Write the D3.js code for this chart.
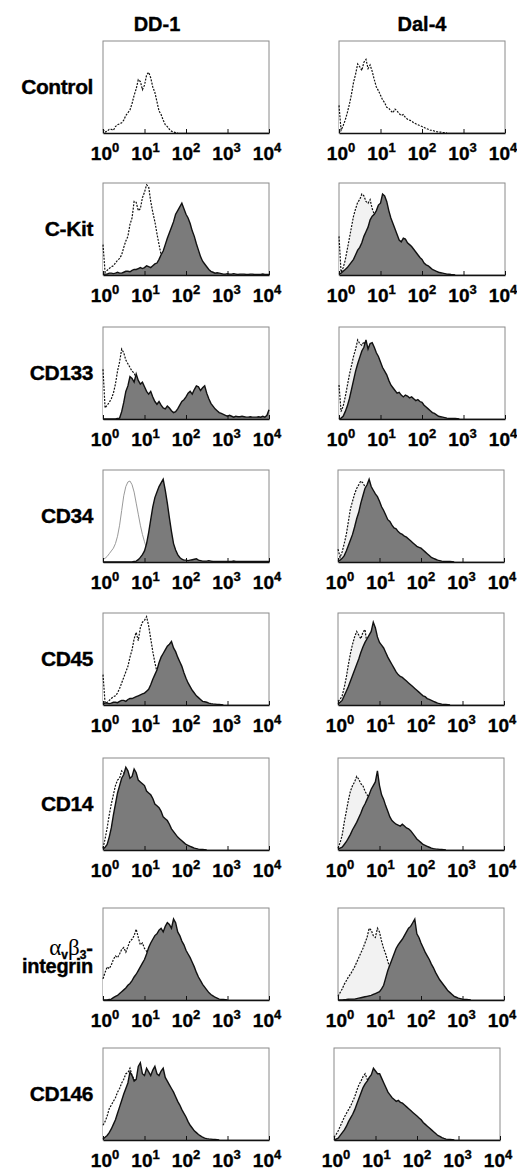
<!DOCTYPE html>
<html>
<head>
<meta charset="utf-8">
<script src="https://cdn.jsdelivr.net/npm/d3@7"></script>
<style>
  body { margin: 0; background: #fff; }
  svg { display: block; font-family: "Liberation Sans", Arial, Helvetica, sans-serif; }
</style>
</head>
<body>
<svg id="chart" width="517" height="1171"></svg>
<script>
// fluorescence channels, log10 units (10^0 .. 10^4)
const decades = [0, 0.05, 0.1, 0.15, 0.2, 0.25, 0.3, 0.35, 0.4, 0.45, 0.5, 0.55, 0.6, 0.65, 0.7, 0.75, 0.8, 0.85, 0.9, 0.95,
  1, 1.05, 1.1, 1.15, 1.2, 1.25, 1.3, 1.35, 1.4, 1.45, 1.5, 1.55, 1.6, 1.65, 1.7, 1.75, 1.8, 1.85, 1.9, 1.95,
  2, 2.05, 2.1, 2.15, 2.2, 2.25, 2.3, 2.35, 2.4, 2.45, 2.5, 2.55, 2.6, 2.65, 2.7, 2.75, 2.8, 2.85, 2.9, 2.95,
  3, 3.05, 3.1, 3.15, 3.2, 3.25, 3.3, 3.35, 3.4, 3.45, 3.5, 3.55, 3.6, 3.65, 3.7, 3.75, 3.8, 3.85, 3.9, 3.95, 4]
const tickExponents = [0, 1, 2, 3, 4]
const cellLines = ['DD-1', 'Dal-4']
const markers = ['Control', 'C-Kit', 'CD133', 'CD34', 'CD45', 'CD14', 'αvβ3-integrin', 'CD146']

// counts in % of panel height, one per channel from 10^0 upward (channels past the end are empty)
// *_iso = isotype control (dotted outline), others = stained (filled)
const dd1_control = [4, 1, 2, 4, 4, 3, 7, 9, 10, 11, 14, 19, 22, 25, 32, 41, 48, 58, 56, 47, 52, 63, 66, 60, 50, 44, 34, 24, 20, 14, 9, 7, 4, 2, 1, 0.5, 0]
const dal4_control = [30, 3, 8, 14, 22, 31, 42, 55, 64, 75, 72, 68, 77, 80, 70, 74, 67, 58, 50, 46, 41, 36, 33, 28, 27, 24, 22, 26, 24, 21, 19, 20, 17, 15, 14, 13, 11, 10, 9, 8, 7, 6, 5, 4, 3, 3, 2, 1.5, 1, 1, 0.5, 0.5, 0]

const dd1_ckit_iso = [33, 3, 5, 7, 9, 10, 13, 16, 18, 22, 30, 37, 42, 55, 62, 80, 79, 70, 72, 84, 90, 98, 96, 80, 68, 58, 45, 33, 22, 15, 9, 5, 3, 2, 1, 0.5, 0]
const dd1_ckit = [1, 1, 1, 2, 2, 1.5, 2, 3, 2, 2, 3, 4, 4, 3.5, 5, 6, 6, 7, 8, 7, 8, 10, 9, 8, 10, 12, 13, 17, 22, 26, 33, 40, 46, 52, 58, 66, 70, 74, 78, 72,
  66, 62, 56, 48, 42, 34, 27, 20, 15, 12, 9, 6, 4, 3, 2, 2.5, 2, 1.5, 1, 1, 1.5, 1, 1, 1.5, 1, 0.5, 1, 1, 1, 0.5, 0.5, 1, 1, 0.5, 0.5, 0.5, 0.5, 1, 0.5, 0.5, 0.5]
const dal4_ckit_iso = [42, 3, 8, 16, 28, 40, 52, 64, 72, 79, 82, 88, 86, 80, 78, 82, 72, 66, 62, 60, 56, 52, 50, 47, 44, 41, 38, 36, 34, 32, 30, 29, 28, 26, 24, 21, 18, 15, 13, 11, 9, 7, 6, 5, 4, 3, 2, 1.5, 1, 0.8, 0.5, 0.3, 0]
const dal4_ckit = [1, 2, 4, 6, 8, 11, 14, 17, 22, 27, 30, 35, 42, 47, 52, 60, 64, 66, 70, 76, 78, 88, 86, 80, 70, 62, 56, 50, 44, 38, 36, 40, 39, 35, 33, 31, 28, 25, 22, 19, 17, 13, 11, 10, 8, 6, 5, 4, 3, 2.5, 2, 1.5, 1, 0.8, 0.5, 0.3, 0]

const dd1_cd133_iso = [54, 12, 15, 18, 22, 28, 38, 52, 62, 76, 72, 64, 60, 56, 52, 50, 44, 40, 36, 32, 28, 24, 20, 17, 15, 12, 10, 8, 7, 6, 5, 4, 3, 2.5, 2, 1.5, 1, 1, 1, 0.7, 0.5, 0.3, 0]
const dd1_cd133 = [0, 0, 0, 0, 0, 0, 0, 0.5, 1, 8, 18, 30, 36, 46, 44, 40, 49, 42, 38, 40, 35, 30, 27, 30, 24, 19, 16, 19, 15, 12, 11, 14, 12, 9, 7, 8, 11, 15, 19, 21,
  24, 28, 30, 27, 32, 36, 35, 31, 34, 36, 28, 22, 17, 14, 11, 9, 7, 6, 5, 4, 3, 4, 3, 2, 3, 2.5, 2.5, 3, 2.5, 2, 2, 2.5, 2, 2, 2, 2.5, 2, 3, 2, 4, 10]
const dal4_cd133_iso = [37, 8, 14, 24, 36, 48, 58, 68, 76, 86, 82, 80, 84, 78, 74, 72, 70, 64, 60, 55, 50, 46, 42, 38, 34, 30, 26, 24, 22, 21, 20, 19, 18, 17, 16, 15, 15, 14, 14, 12, 11, 9, 8, 6, 5, 4, 3, 2, 1, 0.7, 0.5, 0.3, 0]
const dal4_cd133 = [0, 1, 3, 8, 14, 22, 32, 42, 52, 60, 67, 74, 78, 86, 76, 82, 83, 78, 72, 68, 62, 56, 52, 48, 42, 37, 34, 31, 28, 29, 26, 24, 26, 25, 23, 24, 22, 20, 21, 19, 18, 15, 13, 11, 9, 7, 6, 4.5, 3, 2.5, 2, 1.5, 1, 0.7, 0.5, 0.5, 0.5, 0.3, 0]

const dd1_cd34_iso = [3, 4, 6, 9, 12, 15, 20, 28, 40, 56, 72, 82, 87, 88, 84, 76, 64, 52, 40, 30, 22, 15, 9, 6, 3, 2, 1, 0.5, 0]
const dd1_cd34 = [0, 0, 0, 0, 0, 0, 0, 0, 0, 0, 0, 0, 0, 0, 0, 0.5, 1, 2.5, 5, 8, 12, 20, 32, 46, 60, 70, 76, 82, 86, 90, 78, 64, 48, 33, 20, 13, 8, 5, 3, 2,
  2, 1.5, 2, 2.5, 3, 3.5, 2, 1.5, 1, 1, 1, 1.5, 1, 0.5, 0.5, 0.5, 0.5, 0.5, 0.5, 0.5, 0.5, 0.5, 0.5, 1, 0.5, 0.5, 0.5, 0.5, 0.5, 0.5, 0.5, 0.5, 0.5, 0.5, 0.5, 0.5, 0.5, 0.5, 0.5, 0.5, 0.5]
const dal4_cd34_iso = [14, 5, 11, 20, 30, 44, 58, 66, 74, 80, 84, 88, 86, 82, 80, 76, 70, 65, 60, 55, 50, 46, 42, 39, 36, 34, 32, 30, 28, 26, 24, 22, 20, 19, 18, 16, 14, 12, 11, 10, 9, 7, 6, 4, 3, 2.5, 2, 1.5, 1, 0.7, 0.5, 0.3, 0]
const dal4_cd34 = [1, 2, 4, 7, 12, 18, 24, 30, 38, 47, 54, 64, 72, 80, 84, 90, 82, 78, 74, 71, 66, 60, 56, 51, 46, 44, 40, 37, 36, 33, 31, 30, 28, 27, 25, 23, 21, 19, 17, 16, 15, 13, 11, 9, 7, 5, 4, 3, 2, 1.5, 1, 0.7, 0.5, 0.5, 0.5, 0.3, 0]

const dd1_cd45_iso = [33, 2, 3, 5, 7, 9, 10, 13, 18, 24, 30, 36, 42, 52, 60, 72, 79, 70, 84, 90, 92, 96, 86, 72, 58, 46, 36, 30, 25, 20, 16, 13, 10, 8, 6, 4, 3, 2.5, 2, 1.5, 1, 0.5, 0]
const dd1_cd45 = [1, 2, 2, 1.5, 2, 3, 3, 2.5, 4, 5, 5, 4, 6, 7, 7, 8, 9, 10, 11, 12, 13, 15, 17, 22, 28, 33, 38, 46, 52, 56, 60, 64, 66, 69, 62, 58, 52, 47, 42, 35, 29, 24, 20, 16, 13, 10, 8, 6, 4, 3.5, 3, 2, 1.5, 1.2, 1, 0.7, 0.5, 0.3, 0]
const dal4_cd45_iso = [4, 6, 10, 19, 30, 44, 56, 66, 74, 80, 76, 72, 79, 82, 66, 64, 62, 60, 58, 55, 52, 49, 46, 43, 40, 37, 34, 31, 28, 26, 24, 22, 20, 18, 17, 15, 13, 11, 10, 8, 7, 5, 4, 3, 2, 1.5, 1, 0.7, 0.5, 0.3, 0]
const dal4_cd45 = [1, 3, 5, 10, 15, 20, 26, 32, 38, 44, 50, 57, 63, 68, 72, 76, 80, 90, 84, 74, 68, 65, 62, 57, 52, 48, 44, 40, 36, 33, 31, 30, 28, 26, 24, 22, 20, 18, 16, 14, 12, 10, 9, 7, 6, 5, 4, 3, 2, 1.5, 1, 0.7, 0.5, 0.3, 0]

const dd1_cd14_iso = [2, 12, 24, 38, 50, 60, 70, 76, 78, 86, 84, 80, 80, 77, 74, 72, 70, 66, 62, 59, 56, 53, 50, 47, 44, 41, 38, 35, 32, 29, 26, 23, 20, 17, 14, 11, 9, 7, 5, 4, 3, 2, 1, 0.7, 0.5, 0.3, 0]
const dd1_cd14 = [1, 3, 6, 14, 24, 38, 50, 62, 70, 78, 82, 90, 86, 78, 80, 88, 84, 76, 74, 72, 70, 64, 62, 60, 56, 50, 48, 46, 42, 36, 34, 32, 28, 23, 20, 17, 14, 12, 10, 8, 6, 5, 4, 3, 2, 1.5, 1, 0.7, 0.5, 0.3, 0]
const dal4_cd14_iso = [2, 8, 16, 30, 42, 54, 64, 70, 74, 80, 77, 72, 70, 64, 60, 58, 56, 54, 52, 50, 48, 44, 40, 36, 32, 29, 26, 24, 22, 21, 20, 19, 18, 17, 16, 14, 12, 10, 8, 6, 5, 4, 3, 2, 1, 0.7, 0.5, 0.3, 0]
const dal4_cd14 = [1, 2, 3, 6, 9, 13, 17, 22, 26, 30, 35, 40, 46, 50, 55, 60, 66, 70, 74, 86, 70, 60, 55, 48, 42, 36, 32, 30, 28, 27, 26, 28, 26, 24, 23, 21, 18, 15, 12, 10, 8, 6, 5, 4, 3, 2, 1.5, 1.2, 1, 0.7, 0.5, 0.3, 0]

const dd1_itg_iso = [23, 30, 36, 34, 38, 44, 48, 46, 50, 55, 57, 52, 58, 64, 66, 70, 77, 68, 60, 62, 56, 53, 50, 47, 44, 40, 36, 33, 30, 27, 24, 21, 18, 15, 12, 10, 8, 6, 5, 4, 3, 2.5, 2, 1.5, 1, 0.7, 0.5, 0.3, 0]
const dd1_itg = [0, 0, 0, 0.5, 1, 2.5, 4, 5, 7, 9, 11, 13, 16, 18, 21, 25, 28, 32, 36, 40, 44, 50, 57, 62, 66, 70, 72, 76, 78, 74, 80, 84, 82, 78, 88, 84, 74, 70, 64, 60,
  54, 50, 46, 41, 36, 30, 25, 21, 17, 14, 11, 8, 6, 4.5, 3, 2, 1, 0.7, 0.5, 0.3, 0]
const dal4_itg_iso = [4, 8, 12, 17, 21, 25, 28, 32, 36, 41, 46, 51, 56, 62, 68, 78, 76, 70, 68, 78, 74, 64, 56, 50, 42, 35, 28, 22, 16, 12, 9, 7, 5, 3, 2, 1.5, 1, 0.7, 0.5, 0.3, 0]
const dal4_itg = [0, 0, 0, 0.3, 0.5, 0.8, 1, 1, 1, 1.5, 2, 2.5, 3, 3.5, 4, 4.5, 5, 6, 7, 8, 9, 12, 16, 24, 32, 38, 44, 50, 56, 60, 63, 66, 70, 74, 78, 80, 84, 88, 72, 68,
  62, 57, 52, 48, 44, 39, 35, 30, 26, 22, 19, 16, 13, 10, 8, 6, 4, 3, 2, 1.5, 1, 0.7, 0.5, 0.3, 0]

const dd1_cd146_iso = [16, 20, 26, 34, 38, 42, 46, 52, 56, 62, 66, 72, 73, 78, 70, 66, 64, 68, 62, 66, 60, 62, 58, 60, 56, 55, 54, 53, 52, 50, 48, 45, 42, 38, 34, 30, 26, 22, 18, 15, 12, 9, 7, 5, 3, 2, 1, 0.7, 0.5, 0.3, 0]
const dd1_cd146 = [1, 3, 5, 8, 12, 17, 22, 29, 36, 43, 50, 56, 62, 74, 70, 64, 66, 80, 84, 72, 70, 78, 74, 70, 76, 80, 72, 70, 75, 78, 68, 64, 60, 56, 52, 47, 42, 38, 33, 29,
  25, 20, 16, 13, 10, 8, 6, 4.5, 3, 2, 1.5, 1.2, 1, 0.7, 0.5, 0.3, 0]
const dal4_cd146_iso = [3, 6, 10, 15, 20, 25, 29, 33, 37, 42, 47, 54, 60, 64, 69, 72, 66, 64, 62, 61, 60, 57, 54, 50, 46, 42, 38, 36, 34, 33, 32, 31, 30, 28, 26, 24, 22, 20, 18, 16, 14, 12, 10, 8, 7, 5, 4, 3, 2, 1.5, 1, 0.7, 0.5, 0.3, 0]
const dal4_cd146 = [0, 1, 2, 5, 8, 11, 15, 20, 24, 28, 33, 39, 45, 51, 57, 61, 64, 68, 71, 78, 75, 72, 72, 67, 62, 57, 52, 49, 46, 44, 42, 43, 41, 40, 38, 36, 34, 32, 30, 28,
  26, 24, 22, 19, 17, 15, 13, 11, 9, 7, 5, 4, 2.5, 1.7, 1, 0.7, 0.5, 0.3, 0]

// [iso, stained] per marker, per cell line
const panels = [
  [[dd1_control, null], [dal4_control, null]],
  [[dd1_ckit_iso, dd1_ckit], [dal4_ckit_iso, dal4_ckit]],
  [[dd1_cd133_iso, dd1_cd133], [dal4_cd133_iso, dal4_cd133]],
  [[dd1_cd34_iso, dd1_cd34], [dal4_cd34_iso, dal4_cd34]],
  [[dd1_cd45_iso, dd1_cd45], [dal4_cd45_iso, dal4_cd45]],
  [[dd1_cd14_iso, dd1_cd14], [dal4_cd14_iso, dal4_cd14]],
  [[dd1_itg_iso, dd1_itg], [dal4_itg_iso, dal4_itg]],
  [[dd1_cd146_iso, dd1_cd146], [dal4_cd146_iso, dal4_cd146]]
]

// layout
const leftX = 103
const rightX = [339, 339, 339, 338, 338, 338, 338, 334]
const rowY = [41, 183, 327, 470, 613, 758, 908, 1048]
const boxW = 166
const boxH = 92
const titleX = [157, 422]
const labelShift = [2, 1, 0, -1, -2]

const svg = d3.select('#chart')

const x = d3.scaleLog().domain([1, 1e4]).range([0, boxW])
const y = d3.scaleLinear().domain([0, 100]).range([boxH, 0])

const area = d3.area()
  .x((d, i) => x(Math.pow(10, decades[i])))
  .y0(boxH)
  .y1(d => y(d))
const line = d3.line()
  .x((d, i) => x(Math.pow(10, decades[i])))
  .y(d => y(d))

const boldText = sel => sel
  .attr('font-weight', 'bold')
  .attr('stroke', '#000')
  .attr('stroke-width', 0.35)

// column titles
svg.selectAll('.col-title')
  .data(cellLines)
  .enter().append('text')
    .attr('class', 'col-title')
    .attr('x', (d, i) => titleX[i])
    .attr('y', 31)
    .attr('text-anchor', 'middle')
    .attr('font-size', 20)
    .call(boldText)
    .text(d => d)

markers.forEach((marker, r) => {
  // row label
  if (marker === 'αvβ3-integrin') {
    const t = svg.append('text')
      .attr('x', 93)
      .attr('y', rowY[r] + boxH / 2 + 1)
      .attr('text-anchor', 'end')
      .attr('font-size', 20)
    t.append('tspan').attr('font-family', '"Liberation Serif", serif').attr('font-size', 23).text('α')
    t.append('tspan').attr('font-size', 12).attr('dy', 4).call(boldText).text('v')
    t.append('tspan').attr('font-family', '"Liberation Serif", serif').attr('font-size', 23).attr('dy', -4).text('β')
    t.append('tspan').attr('font-size', 12).attr('dy', 4).call(boldText).text('3')
    t.append('tspan').attr('dy', -4).call(boldText).text('-')
    t.append('tspan')
      .attr('x', 93)
      .attr('dy', 18)
      .attr('letter-spacing', -0.3)
      .call(boldText)
      .text('integrin')
  } else {
    svg.append('text')
      .attr('x', 93)
      .attr('y', rowY[r] + boxH / 2 + 7)
      .attr('text-anchor', 'end')
      .attr('font-size', 21)
      .attr('letter-spacing', -0.4)
      .call(boldText)
      .text(marker)
  }

  cellLines.forEach((cellLine, c) => {
    const [iso, stained] = panels[r][c]
    const g = svg.append('g')
      .attr('transform', `translate(${c === 0 ? leftX : rightX[r]},${rowY[r]})`)

    g.append('rect')
      .attr('width', boxW)
      .attr('height', boxH)
      .attr('fill', 'none')
      .attr('stroke', '#8a8a8a')
      .attr('stroke-width', 1)

    const isoSolid = marker === 'CD34' && c === 0
    g.append('path')
      .datum(iso)
      .attr('d', area)
      .attr('fill', c === 1 && stained ? '#f2f2f2' : '#fff')
    g.append('path')
      .datum(iso)
      .attr('d', line)
      .attr('fill', 'none')
      .attr('stroke', isoSolid ? '#9a9a9a' : '#111')
      .attr('stroke-width', isoSolid ? 1 : 1.2)
      .attr('stroke-dasharray', isoSolid ? null : '2,1.3')

    if (stained) {
      g.append('path')
        .datum(stained)
        .attr('d', area)
        .attr('fill', '#7b7b7b')
      g.append('path')
        .datum(stained)
        .attr('d', line)
        .attr('fill', 'none')
        .attr('stroke', '#111')
        .attr('stroke-width', 1.4)
    }

    // bottom axis, inner ticks
    const axis = g.append('g')
      .attr('transform', `translate(0,${boxH})`)
      .call(d3.axisBottom(x).tickValues(tickExponents.map(e => Math.pow(10, e))).tickSize(-4).tickSizeOuter(0).tickFormat(''))
    axis.select('.domain').attr('stroke', '#111').attr('stroke-width', 1.4)
    axis.selectAll('.tick line').attr('stroke', '#111')

    const labels = g.selectAll('.tick-label')
      .data(tickExponents)
      .enter().append('text')
        .attr('class', 'tick-label')
        .attr('x', (e, i) => x(Math.pow(10, e)) + labelShift[i])
        .attr('y', boxH + 27)
        .attr('text-anchor', 'middle')
        .attr('font-size', 19)
        .call(boldText)
    labels.append('tspan').text('10')
    labels.append('tspan').attr('font-size', 13).attr('dy', -8).text(e => e)
  })
})
</script>
</body>
</html>
